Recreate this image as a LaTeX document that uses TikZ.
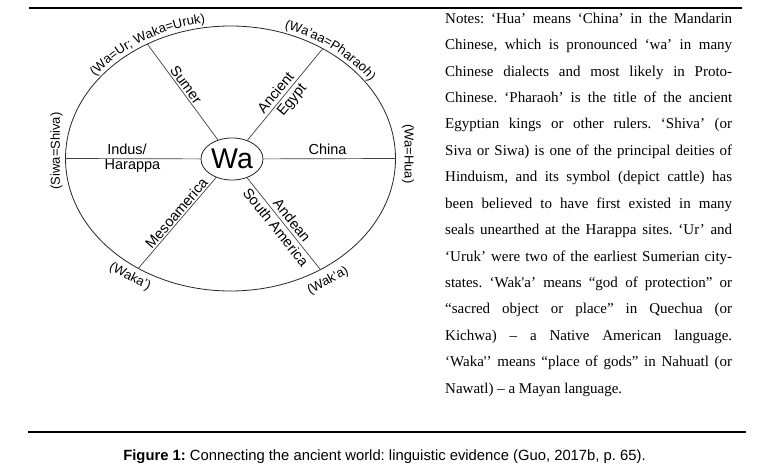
\documentclass[tikz,border=0pt]{standalone}
\usepackage{fontspec}
\setmainfont{Liberation Sans}
\newfontfamily\notesfont{Liberation Serif}
\usetikzlibrary{shapes.geometric,calc,decorations.text}
\frenchspacing
\begin{document}
\begin{tikzpicture}[x=1pt,y=-1pt,
  lbl/.style={font=\fontsize{14.5}{16}\selectfont, inner sep=1.5pt},
  ann/.style={font=\fontsize{13}{14}\selectfont, inner sep=0pt},
  spoke/.style={draw=black!75, line width=0.7pt},
  outline/.style={ellipse, draw=black!85, line width=0.8pt, inner sep=0pt},
  noteline/.style={anchor=base west, inner sep=0pt, font=\notesfont\fontsize{15}{18}\selectfont},
  rulel/.style={line width=1.2pt}]
\useasboundingbox (0,0) rectangle (763,470);
\fill[white] (0,0) rectangle (763,470);
% rules
\coordinate (r1a) at (29,8); \coordinate (r1b) at (742,8);
\draw[rulel] (r1a) -- (r1b);
\coordinate (r2a) at (28,432); \coordinate (r2b) at (746,432);
\draw[rulel] (r2a) -- (r2b);
% diagram
\node[outline, minimum width=330pt, minimum height=265pt] (big) at (230.5,158.5) {};
\node[outline, minimum width=62pt, minimum height=42pt, font=\fontsize{28.5}{30}\selectfont] (wa) at (232,159) {Wa};
\draw[spoke] (wa) -- (big.180);
\draw[spoke] (wa) -- (big.0);
\draw[spoke] (wa) -- (big.126) node[lbl, sloped, above, pos=0.53] (sumer) {Sumer};
\draw[spoke] (wa) -- (big.50)
  node[lbl, sloped, above=1.5pt, pos=0.46] (ancient) {Ancient}
  node[lbl, sloped, below=1.1pt, pos=0.50] (egypt) {Egypt};
\draw[spoke] (wa) -- (big.230) node[lbl, sloped, above, pos=0.44] (meso) {Mesoamerica};
\draw[spoke] (wa) -- (big.-51)
  node[lbl, sloped, above=1.5pt, pos=0.52] (andean) {Andean}
  node[lbl, sloped, below=1.1pt, pos=0.48] (southam) {South America};
\node[lbl] (indus) at (127,149) {Indus/};
\node[lbl] (harappa) at (132.5,166) {Harappa};
\node[lbl] (china) at (327.5,149) {China};
% annotations
\path[decorate, decoration={text along path, text align=center,
    text={|\fontsize{13}{14}\selectfont|(Wa=Ur; Waka=Uruk)}}]
  ($(big.center)+(-171:169 and 137)$) arc[start angle=-171, end angle=-75, x radius=169, y radius=137];
\path[decorate, decoration={text along path, text align=center,
    text={|\fontsize{13}{14}\selectfont|(Wa'aa=Pharaoh)}}]
  ($(big.center)+(-91.5:169 and 137)$) arc[start angle=-91.5, end angle=-10.5, x radius=169, y radius=137];
\node[ann, rotate=90] (siwa) at (56.5,151) {(Siwa=Shiva)};
\node[ann, rotate=-90] (hua) at (408,154) {(Wa=Hua)};
\node[ann, rotate=-27] (wakaA) at (130,277) {(Waka')};
\node[ann, rotate=28] (wakaB) at (328,281) {(Wak'a)};
% notes
\node[noteline] (n1) at (445,23.3) {\makebox[287pt][s]{Notes: ‘Hua’ means ‘China’ in the Mandarin}};
\node[noteline] (n2) at (445,49.7) {\makebox[287pt][s]{Chinese, which is pronounced ‘wa’ in many}};
\node[noteline] (n3) at (445,76.2) {\makebox[287pt][s]{Chinese dialects and most likely in Proto-}};
\node[noteline] (n4) at (445,102.6) {\makebox[287pt][s]{Chinese. ‘Pharaoh’ is the title of the ancient}};
\node[noteline] (n5) at (445,129.0) {\makebox[287pt][s]{Egyptian kings or other rulers. ‘Shiva’ (or}};
\node[noteline] (n6) at (445,155.5) {\makebox[287pt][s]{Siva or Siwa) is one of the principal deities of}};
\node[noteline] (n7) at (445,181.9) {\makebox[287pt][s]{Hinduism, and its symbol (depict cattle) has}};
\node[noteline] (n8) at (445,208.3) {\makebox[287pt][s]{been believed to have first existed in many}};
\node[noteline] (n9) at (445,234.7) {\makebox[287pt][s]{seals unearthed at the Harappa sites. ‘Ur’ and}};
\node[noteline] (n10) at (445,261.2) {\makebox[287pt][s]{‘Uruk’ were two of the earliest Sumerian city-}};
\node[noteline] (n11) at (445,287.6) {\makebox[287pt][s]{states. ‘Wak'a’ means “god of protection” or}};
\node[noteline] (n12) at (445,314.0) {\makebox[287pt][s]{“sacred object or place” in Quechua (or}};
\node[noteline] (n13) at (445,340.5) {\makebox[287pt][s]{Kichwa) – a Native American language.}};
\node[noteline] (n14) at (445,366.9) {\makebox[287pt][s]{‘Waka'’ means “place of gods” in Nahuatl (or}};
\node[noteline] (n15) at (445,393.3) {Nawatl) – a Mayan language.};
% caption
\node[anchor=base, inner sep=0pt, font=\fontsize{14.8}{16}\selectfont] (cap) at (384.5,460) {\textbf{Figure 1:} Connecting the ancient world: linguistic evidence (Guo, 2017b, p. 65).};
\end{tikzpicture}
\end{document}
